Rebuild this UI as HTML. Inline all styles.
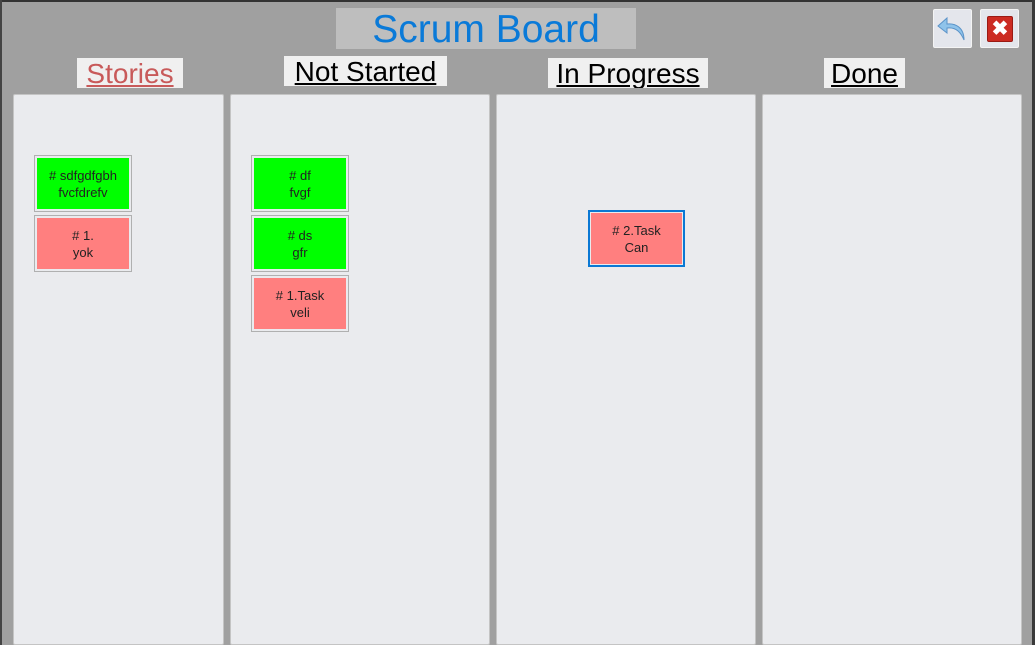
<!DOCTYPE html>
<html><head><style>
body{margin:0;width:1035px;height:645px;overflow:hidden;background:#a0a0a0;font-family:"Liberation Sans",Arial,sans-serif;position:relative}
div{position:absolute;box-sizing:border-box}
.panel{top:94px;height:551px;background:#eaebee;border:1px solid #c4c4c4;border-radius:2px}
.hdr{background:#f0f0f0;font-size:28px;text-align:center;text-decoration:underline;line-height:31px;height:30px;color:#000;white-space:nowrap;overflow:hidden}
.card{width:98px;height:57px;border:1px solid #b0b0b0;background:#eaebee;padding:2px}
.card span{display:flex;width:100%;height:100%;align-items:center;justify-content:center;text-align:center;font-size:13px;line-height:17px;color:#222}
.g span{background:#00ff00}.r span{background:#ff7f7f}
</style></head><body>
<div style="left:0;top:0;width:1035px;height:2px;background:#333"></div>
<div style="left:0;top:0;width:2px;height:645px;background:#444"></div>
<div style="left:1032px;top:0;width:3px;height:645px;background:#3a3a3a"></div>
<div style="left:336px;top:8px;width:300px;height:41px;background:#bebebe;color:#0a7ad8;font-size:39px;text-align:center;line-height:44px;white-space:nowrap">Scrum Board</div>
<div style="left:933px;top:9px;width:39px;height:39px;background:#e4e6ec;border:1px solid #f4f4f4;border-radius:2px"><svg width="37" height="37"><path d="M30 30 C30 17 21 13 13 14 L13 8 L4 16 L13 23 L13 18 C20 17 26 20 30 30Z" fill="#8fc3ea" stroke="#5b93c8" stroke-width="1"/></svg></div>
<div style="left:980px;top:9px;width:39px;height:39px;background:#e4e6ec;border:1px solid #f4f4f4;border-radius:2px"><div style="left:6px;top:6px;width:26px;height:26px;background:#cc2b22;border:1px solid #9a1a14;border-radius:2px;color:#fff;font-size:20px;font-weight:bold;text-align:center;line-height:24px">✖</div></div>
<div class="hdr" style="left:77px;top:58px;width:106px;color:#c85a5a">Stories</div>
<div class="hdr" style="left:284px;top:56px;width:163px">Not Started</div>
<div class="hdr" style="left:548px;top:58px;width:160px">In Progress</div>
<div class="hdr" style="left:824px;top:58px;width:81px">Done</div>
<div class="panel" style="left:13px;width:211px"></div>
<div class="panel" style="left:230px;width:260px"></div>
<div class="panel" style="left:496px;width:260px"></div>
<div class="panel" style="left:762px;width:260px"></div>
<div class="card g" style="left:34px;top:155px"><span># sdfgdfgbh<br>fvcfdrefv</span></div>
<div class="card r" style="left:34px;top:215px"><span># 1.<br>yok</span></div>
<div class="card g" style="left:251px;top:155px"><span># df<br>fvgf</span></div>
<div class="card g" style="left:251px;top:215px"><span># ds<br>gfr</span></div>
<div class="card r" style="left:251px;top:275px"><span># 1.Task<br>veli</span></div>
<div class="card r" style="left:588px;top:210px;width:97px;border:2px solid #0a78d4;padding:1px"><span># 2.Task<br>Can</span></div>
</body></html>
